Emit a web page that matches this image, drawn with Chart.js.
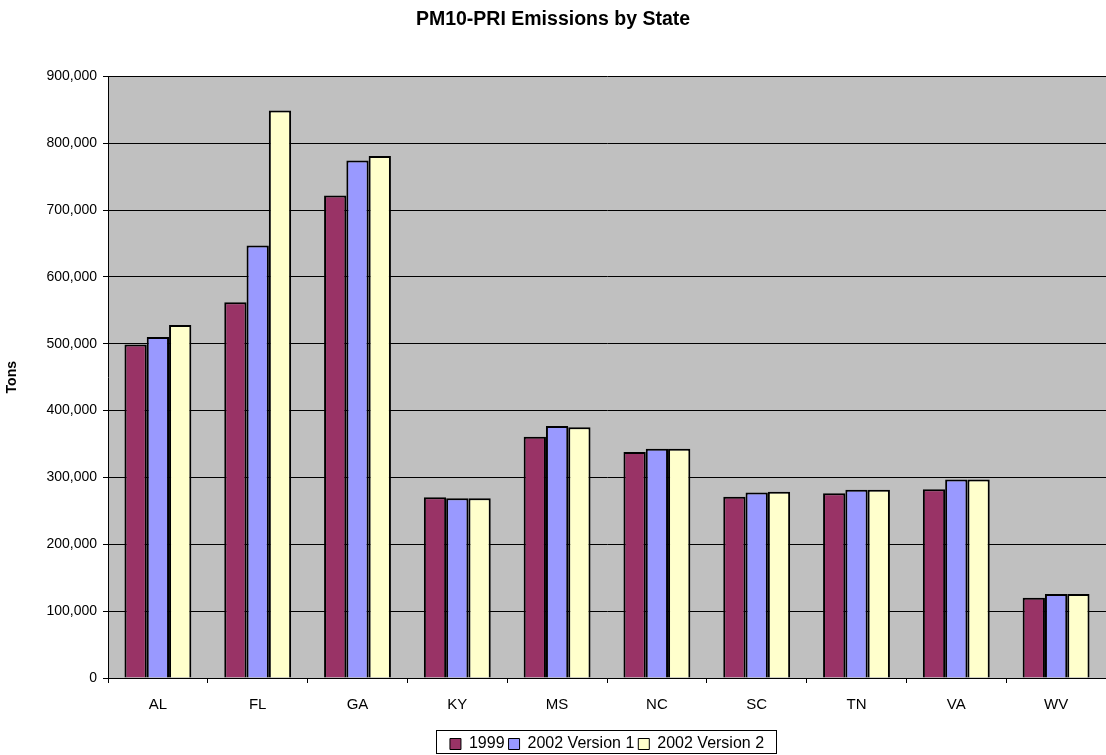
<!DOCTYPE html>
<html>
<head>
<meta charset="utf-8">
<title>PM10-PRI Emissions by State</title>
<script src="https://cdn.jsdelivr.net/npm/chart.js@4.4.1/dist/chart.umd.min.js"></script>
<style>
  html, body { margin: 0; padding: 0; background: #fff; }
  #wrap { width: 1106px; height: 755px; }
</style>
</head>
<body>
<div id="wrap"><canvas id="emChart" width="1106" height="755"></canvas></div>
<script>
// data (tons)
const states = ["AL", "FL", "GA", "KY", "MS", "NC", "SC", "TN", "VA", "WV"];
const tons1999 = [499000, 562000, 722000, 270500, 361000, 338000, 271000, 276500, 282500, 120000];
const tons2002v1 = [510000, 647000, 774000, 269000, 377000, 343000, 277500, 281500, 297000, 125500];
const tons2002v2 = [528000, 849000, 781000, 269000, 375000, 343000, 278500, 281500, 297000, 125500];
const seriesNames = ["1999", "2002 Version 1", "2002 Version 2"];
const yTicks = [0, 100000, 200000, 300000, 400000, 500000, 600000, 700000, 800000, 900000];

const fontFam = "'Liberation Sans', Arial, sans-serif";

// grey plot area, legend centred under the plot, box round the legend
const excelLook = {
    id: "excelLook",
    afterLayout(chart) {
        const lg = chart.legend;
        const a = chart.chartArea;
        lg.left = a.left;
        lg.right = a.right;
        lg.width = a.right - a.left;
        lg.top += 7;
        lg.bottom += 7;
    },
    beforeDraw(chart) {
        const a = chart.chartArea;
        const c = chart.ctx;
        c.save();
        c.fillStyle = "#c0c0c0";
        c.fillRect(a.left, a.top, a.right - a.left, a.bottom - a.top);
        c.restore();
    },
    afterDraw(chart) {
        const lg = chart.legend;
        if (!lg.lineWidths || !lg.lineWidths.length) return;
        const w = lg.lineWidths[0];
        const cx = (lg.left + lg.right) / 2;
        const c = chart.ctx;
        c.save();
        c.strokeStyle = "#000";
        c.lineWidth = 1;
        c.strokeRect(Math.round(cx - w / 2 - 12) + 0.5, Math.round(lg.top - 2) + 0.5, Math.round(w + 22), 23);
        c.restore();
    }
};

const ctx = document.getElementById("emChart").getContext("2d");
const emChart = new Chart(ctx, {
    type: "bar",
    data: {
        labels: states,
        datasets: [
            { label: seriesNames[0], data: tons1999, backgroundColor: "#993366" },
            { label: seriesNames[1], data: tons2002v1, backgroundColor: "#9999ff" },
            { label: seriesNames[2], data: tons2002v2, backgroundColor: "#ffffcc" }
        ]
    },
    options: {
        responsive: false,
        animation: false,
        datasets: {
            bar: {
                borderColor: "#000",
                borderWidth: 2,
                categoryPercentage: 0.67,
                barPercentage: 1
            }
        },
        layout: { padding: { left: 0, right: 0, top: 0, bottom: 0 } },
        plugins: {
            title: {
                display: true,
                text: "PM10-PRI Emissions by State",
                color: "#000",
                font: { family: fontFam, size: 19.5, weight: "bold" },
                padding: { top: 8, bottom: 45 }
            },
            legend: {
                position: "bottom",
                labels: {
                    color: "#000",
                    font: { family: fontFam, size: 16 },
                    boxWidth: 11,
                    boxHeight: 11,
                    padding: 4,
                    generateLabels(chart) {
                        return chart.data.datasets.map((ds, i) => ({
                            text: ds.label,
                            fillStyle: ds.backgroundColor,
                            strokeStyle: "#000",
                            lineWidth: 1,
                            datasetIndex: i
                        }));
                    }
                }
            },
            tooltip: { enabled: false }
        },
        scales: {
            x: {
                grid: { display: true, drawOnChartArea: false, color: "#000", tickLength: 5 },
                border: { color: "#000", width: 1 },
                ticks: { color: "#000", font: { family: fontFam, size: 15 }, padding: 13 },
                afterFit(scale) { scale.height = 47; }
            },
            y: {
                min: 0,
                max: 900000,
                afterBuildTicks(scale) { scale.ticks = yTicks.map(v => ({ value: v })); },
                ticks: {
                    color: "#000",
                    font: { family: fontFam, size: 14 },
                    padding: 6,
                    callback: v => v.toLocaleString("en-US")
                },
                grid: { color: "#000", lineWidth: 1, tickLength: 5, tickColor: "#000" },
                border: { color: "#000", width: 1 },
                title: {
                    display: true,
                    text: "Tons",
                    color: "#000",
                    font: { family: fontFam, size: 14, weight: "bold" }
                },
                afterFit(scale) { scale.width = 108; }
            }
        }
    },
    plugins: [excelLook]
});
</script>
</body>
</html>
